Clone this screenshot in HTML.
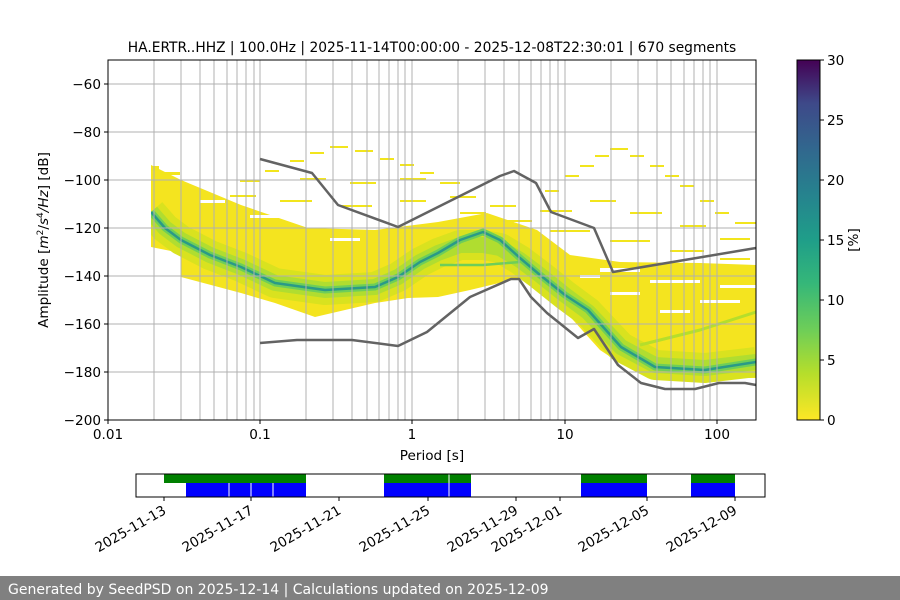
<!DOCTYPE html>
<html><head><meta charset="utf-8"><style>
html,body{margin:0;padding:0;background:#fff;}
svg{display:block;font-family:"DejaVu Sans","Liberation Sans",sans-serif;}
</style></head><body>
<svg width="900" height="600" viewBox="0 0 900 600" xmlns="http://www.w3.org/2000/svg">
<defs>
<linearGradient id="vir" x1="0" y1="1" x2="0" y2="0">
<stop offset="0" stop-color="#fde725"/><stop offset="0.13" stop-color="#b5de2b"/><stop offset="0.25" stop-color="#6ece58"/><stop offset="0.38" stop-color="#35b779"/><stop offset="0.5" stop-color="#1f9e89"/><stop offset="0.63" stop-color="#26828e"/><stop offset="0.75" stop-color="#31688e"/><stop offset="0.88" stop-color="#3e4989"/><stop offset="1" stop-color="#440154"/>
</linearGradient>
<clipPath id="ax"><rect x="151" y="60" width="605" height="360"/></clipPath>
</defs>
<text x="432" y="52" font-size="13.8" text-anchor="middle">HA.ERTR..HHZ | 100.0Hz | 2025-11-14T00:00:00 - 2025-12-08T22:30:01 | 670 segments</text>

<g clip-path="url(#ax)">
<polygon fill="#f4e41f" points="151,165 181,180 241,205 308,228 375,230 438,222 487,213 537,230 570,255 620,262 700,263 756,265 756,378 655,378 621,364 600,350 547,291 520,278 470,290 438,297 408,298 375,303 315,317 275,303 241,293 181,277 181,253 151,247"/>
<g fill="#fff">
<rect x="600" y="268" width="40" height="4"/><rect x="650" y="280" width="50" height="3"/><rect x="610" y="292" width="30" height="3"/><rect x="700" y="300" width="40" height="3"/><rect x="660" y="310" width="30" height="3"/><rect x="720" y="285" width="36" height="3"/><rect x="580" y="275" width="20" height="3"/>
<rect x="250" y="215" width="40" height="3"/><rect x="330" y="238" width="30" height="3"/><rect x="200" y="200" width="25" height="3"/>
</g>
<g fill="none" stroke-linejoin="round" stroke-linecap="butt">
<polyline stroke="#d9e21f" stroke-width="30" points="151,212 165,228 181,240 210,255 241,267 275,283 325,290 375,287 398,277 420,262 438,253 460,245 483,245 500,248 520,260 540,275 565,295 588,312 621,347 655,365 705,368 756,362"/>
<polyline stroke="#b0dd30" stroke-width="16" points="151,212 165,228 181,240 210,255 241,267 275,283 325,290 375,287 398,277 420,262 438,253 460,245 483,245 500,248 520,260 540,275 565,295 588,312 621,347 655,365 705,368 756,362"/>
<polyline stroke="#6ece58" stroke-width="7" points="151,212 165,228 181,240 210,255 241,267 275,283 325,290 375,287 398,277 420,262 438,253 460,240 483,232 500,240 520,258 540,275 565,295 588,310 621,347 655,367 705,370 756,362"/>
<polyline stroke="#2a9a87" stroke-width="2.5" points="151,212 165,228 181,240 210,255 241,267 275,283 325,290 375,287 398,277 420,262 438,253 460,240 483,232 500,240 520,258 540,275 565,295 588,310 621,347 655,367 705,370 756,362"/>
<polyline stroke="#6ece58" stroke-width="2.5" points="440,265 483,265 520,262"/>
<polyline stroke="#b5de2b" stroke-width="3" points="640,345 700,330 756,312"/>
</g>
<g fill="#f2e51d">
<rect x="151" y="166" width="8" height="5"/><rect x="160" y="172" width="20" height="3"/>
<rect x="265" y="170" width="14" height="2"/><rect x="290" y="160" width="14" height="2"/><rect x="310" y="152" width="14" height="2"/><rect x="330" y="146" width="18" height="2"/><rect x="355" y="150" width="18" height="2"/><rect x="380" y="158" width="14" height="2"/><rect x="400" y="164" width="14" height="2"/><rect x="420" y="172" width="14" height="2"/>
<rect x="240" y="180" width="20" height="2"/><rect x="300" y="178" width="26" height="2"/><rect x="350" y="182" width="26" height="2"/><rect x="400" y="178" width="26" height="2"/><rect x="440" y="182" width="20" height="2"/>
<rect x="230" y="195" width="26" height="2"/><rect x="280" y="200" width="32" height="2"/><rect x="340" y="205" width="32" height="2"/><rect x="400" y="200" width="26" height="2"/><rect x="450" y="196" width="26" height="2"/><rect x="490" y="205" width="26" height="2"/>
<rect x="545" y="190" width="14" height="2"/><rect x="565" y="175" width="14" height="2"/><rect x="580" y="165" width="14" height="2"/><rect x="595" y="155" width="14" height="2"/><rect x="610" y="148" width="18" height="2"/><rect x="630" y="155" width="14" height="2"/><rect x="650" y="165" width="14" height="2"/><rect x="665" y="175" width="14" height="2"/><rect x="680" y="185" width="14" height="2"/><rect x="700" y="200" width="14" height="2"/><rect x="715" y="212" width="14" height="2"/><rect x="735" y="222" width="21" height="2"/>
<rect x="540" y="210" width="32" height="2"/><rect x="590" y="200" width="26" height="2"/><rect x="630" y="212" width="32" height="2"/><rect x="680" y="225" width="26" height="2"/><rect x="720" y="238" width="30" height="2"/>
<rect x="550" y="230" width="40" height="2"/><rect x="610" y="240" width="40" height="2"/><rect x="670" y="250" width="34" height="2"/><rect x="720" y="258" width="30" height="2"/>
<rect x="460" y="212" width="26" height="2"/><rect x="500" y="220" width="32" height="2"/>
</g>
</g>

<g stroke="#b0b0b0" stroke-width="1">
<line x1="108" y1="84" x2="756" y2="84"/><line x1="108" y1="132" x2="756" y2="132"/><line x1="108" y1="180" x2="756" y2="180"/><line x1="108" y1="228" x2="756" y2="228"/><line x1="108" y1="276" x2="756" y2="276"/><line x1="108" y1="324" x2="756" y2="324"/><line x1="108" y1="372" x2="756" y2="372"/>
<line x1="154" y1="60" x2="154" y2="420"/><line x1="181" y1="60" x2="181" y2="420"/><line x1="200" y1="60" x2="200" y2="420"/><line x1="214" y1="60" x2="214" y2="420"/><line x1="227" y1="60" x2="227" y2="420"/><line x1="237" y1="60" x2="237" y2="420"/><line x1="246" y1="60" x2="246" y2="420"/><line x1="254" y1="60" x2="254" y2="420"/><line x1="260" y1="60" x2="260" y2="420"/>
<line x1="306" y1="60" x2="306" y2="420"/><line x1="333" y1="60" x2="333" y2="420"/><line x1="352" y1="60" x2="352" y2="420"/><line x1="367" y1="60" x2="367" y2="420"/><line x1="379" y1="60" x2="379" y2="420"/><line x1="389" y1="60" x2="389" y2="420"/><line x1="398" y1="60" x2="398" y2="420"/><line x1="405" y1="60" x2="405" y2="420"/><line x1="412" y1="60" x2="412" y2="420"/>
<line x1="458" y1="60" x2="458" y2="420"/><line x1="485" y1="60" x2="485" y2="420"/><line x1="504" y1="60" x2="504" y2="420"/><line x1="519" y1="60" x2="519" y2="420"/><line x1="531" y1="60" x2="531" y2="420"/><line x1="541" y1="60" x2="541" y2="420"/><line x1="550" y1="60" x2="550" y2="420"/><line x1="558" y1="60" x2="558" y2="420"/><line x1="565" y1="60" x2="565" y2="420"/>
<line x1="611" y1="60" x2="611" y2="420"/><line x1="638" y1="60" x2="638" y2="420"/><line x1="657" y1="60" x2="657" y2="420"/><line x1="671" y1="60" x2="671" y2="420"/><line x1="684" y1="60" x2="684" y2="420"/><line x1="694" y1="60" x2="694" y2="420"/><line x1="703" y1="60" x2="703" y2="420"/><line x1="710" y1="60" x2="710" y2="420"/><line x1="717" y1="60" x2="717" y2="420"/>
</g>
<g fill="none" stroke="#636363" stroke-width="2.5" stroke-linejoin="round">
<polyline points="260,159 312,173 338,205 398,227 500,176 514,171 536,183 551,212 594,228 613,272 756,248"/>
<polyline points="260,343 297,340 352,340 398,346 427,332 470,297 511,279 519,279 531,297 547,313 578,338 594,329 618,365 641,383 665,389 695,389 719,383 745,383 756,385"/>
</g>
<rect x="108" y="60" width="648" height="360" fill="none" stroke="#000" stroke-width="1"/>
<g font-size="13.6" text-anchor="end" fill="#000">
<g stroke="#000"><line x1="104" y1="84" x2="108" y2="84"/><line x1="104" y1="132" x2="108" y2="132"/><line x1="104" y1="180" x2="108" y2="180"/><line x1="104" y1="228" x2="108" y2="228"/><line x1="104" y1="276" x2="108" y2="276"/><line x1="104" y1="324" x2="108" y2="324"/><line x1="104" y1="372" x2="108" y2="372"/><line x1="104" y1="420" x2="108" y2="420"/></g>
<text x="101" y="89">−60</text><text x="101" y="137">−80</text><text x="101" y="185">−100</text><text x="101" y="233">−120</text><text x="101" y="281">−140</text><text x="101" y="329">−160</text><text x="101" y="377">−180</text><text x="101" y="425">−200</text>
</g>
<g font-size="13.6" text-anchor="middle">
<g stroke="#000"><line x1="108" y1="420" x2="108" y2="424"/><line x1="260" y1="420" x2="260" y2="424"/><line x1="412" y1="420" x2="412" y2="424"/><line x1="565" y1="420" x2="565" y2="424"/><line x1="717" y1="420" x2="717" y2="424"/></g>
<text x="108" y="439">0.01</text><text x="260" y="439">0.1</text><text x="412" y="439">1</text><text x="565" y="439">10</text><text x="717" y="439">100</text>
<text x="432" y="460">Period [s]</text>
</g>
<text transform="translate(48,240) rotate(-90)" font-size="13.6" text-anchor="middle">Amplitude [<tspan font-style="italic">m</tspan><tspan font-size="9" dy="-5">2</tspan><tspan dy="5">/</tspan><tspan font-style="italic">s</tspan><tspan font-size="9" dy="-5">4</tspan><tspan dy="5" font-style="italic">/Hz</tspan>] [dB]</text>

<rect x="797" y="60" width="23" height="360" fill="url(#vir)"/>
<rect x="797" y="60" width="23" height="360" fill="none" stroke="#000"/>
<g stroke="#000">
<line x1="820" y1="420" x2="824" y2="420"/><line x1="820" y1="360" x2="824" y2="360"/><line x1="820" y1="300" x2="824" y2="300"/><line x1="820" y1="240" x2="824" y2="240"/><line x1="820" y1="180" x2="824" y2="180"/><line x1="820" y1="120" x2="824" y2="120"/><line x1="820" y1="60" x2="824" y2="60"/>
</g>
<g font-size="13.6">
<text x="827" y="425">0</text><text x="827" y="365">5</text><text x="827" y="305">10</text><text x="827" y="245">15</text><text x="827" y="185">20</text><text x="827" y="125">25</text><text x="827" y="65">30</text>
<text transform="translate(858,240) rotate(-90)" text-anchor="middle">[%]</text>
</g>

<g>
<rect x="164" y="474" width="142" height="9" fill="#008000"/><rect x="384" y="474" width="87" height="9" fill="#008000"/><rect x="581" y="474" width="66" height="9" fill="#008000"/><rect x="691" y="474" width="44" height="9" fill="#008000"/>
<rect x="186" y="483" width="120" height="14" fill="#0000ff"/><rect x="384" y="483" width="87" height="14" fill="#0000ff"/><rect x="581" y="483" width="66" height="14" fill="#0000ff"/><rect x="691" y="483" width="44" height="14" fill="#0000ff"/>
<g stroke="#fff" stroke-width="1"><line x1="229" y1="483" x2="229" y2="497"/><line x1="251" y1="483" x2="251" y2="497"/><line x1="273" y1="483" x2="273" y2="497"/><line x1="449" y1="474" x2="449" y2="497"/></g>
<rect x="136" y="474" width="629" height="23" fill="none" stroke="#000"/>
<g stroke="#000"><line x1="164" y1="497" x2="164" y2="501"/><line x1="251" y1="497" x2="251" y2="501"/><line x1="339" y1="497" x2="339" y2="501"/><line x1="428" y1="497" x2="428" y2="501"/><line x1="516" y1="497" x2="516" y2="501"/><line x1="560" y1="497" x2="560" y2="501"/><line x1="647" y1="497" x2="647" y2="501"/><line x1="735" y1="497" x2="735" y2="501"/></g>
<g font-size="13.6" text-anchor="end">
<text transform="translate(167,513) rotate(-30)">2025-11-13</text>
<text transform="translate(254,513) rotate(-30)">2025-11-17</text>
<text transform="translate(342,513) rotate(-30)">2025-11-21</text>
<text transform="translate(431,513) rotate(-30)">2025-11-25</text>
<text transform="translate(519,513) rotate(-30)">2025-11-29</text>
<text transform="translate(563,513) rotate(-30)">2025-12-01</text>
<text transform="translate(650,513) rotate(-30)">2025-12-05</text>
<text transform="translate(738,513) rotate(-30)">2025-12-09</text>
</g>
</g>

<rect x="0" y="576" width="900" height="24" fill="#808080"/>
<text x="8" y="594" font-size="14" fill="#fff">Generated by SeedPSD on 2025-12-14 | Calculations updated on 2025-12-09</text>
</svg>
</body></html>
